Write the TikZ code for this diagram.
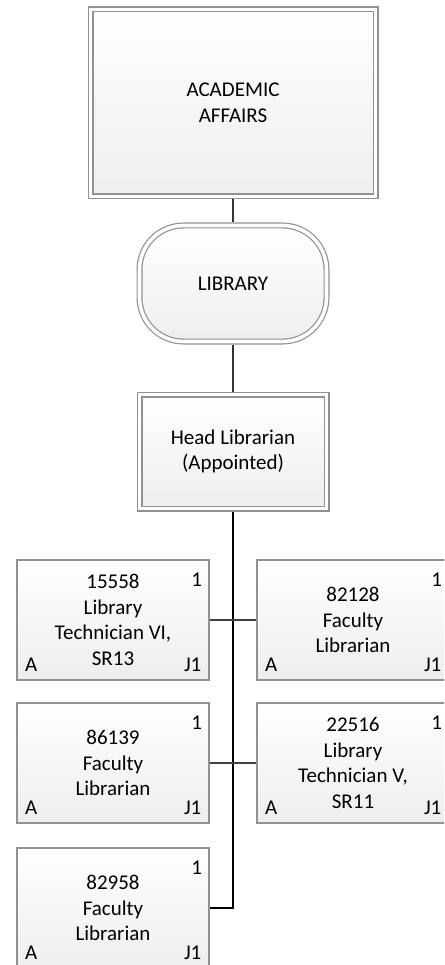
\documentclass[tikz,border=0pt]{standalone}
\usepackage{fontspec}
\setmainfont{Carlito}
\usetikzlibrary{positioning, calc}
\definecolor{boxgray}{RGB}{145,145,145}
\definecolor{fillgray}{RGB}{238,238,238}

\begin{document}
\begin{tikzpicture}[x=1pt, y=-1pt,
	font=\fontsize{21}{25.5}\selectfont,
	shaded/.style={top color=white, bottom color=fillgray, align=center, inner sep=0pt},
	twoline/.style={shaded, draw=boxgray, line width=1.2pt, double=white, double distance=3.6pt, outer sep=3pt},
	topbox/.style={twoline, minimum width=285pt, minimum height=187pt},
	libbox/.style={twoline, rounded corners=44pt, minimum width=187pt, minimum height=116pt},
	headbox/.style={twoline, minimum width=187pt, minimum height=114pt},
	posbox/.style={shaded, draw=boxgray, line width=1.4pt, minimum width=192pt, minimum height=120pt},
	tag/.style={inner sep=0pt},
	link/.style={line width=1.3pt, black!80},
	trunk/.style={line width=1.7pt, black},
	branch/.style={line width=1.3pt, black!75}]

\useasboundingbox (0,0) rectangle (444,965);
\clip (0,0) rectangle (444,965);

\node[topbox] (acad) at (233,103) {ACADEMIC\\AFFAIRS};
\node[libbox] (lib) at (233,283.5) {LIBRARY};
\node[headbox] (head) at (233,451.5) {Head Librarian\\(Appointed)};

\node[posbox] (p15558) at (113,620) {15558\\Library\\Technician VI,\\SR13};
\node[posbox] (p82128) at (353,620) {82128\\Faculty\\Librarian};
\node[posbox] (p86139) at (113,763) {86139\\Faculty\\Librarian};
\node[posbox] (p22516) at (353,763) {22516\\Library\\Technician V,\\SR11};
\node[posbox] (p82958) at (113,908) {82958\\Faculty\\Librarian};

% corner marks of the position boxes
\foreach \p in {p15558, p82128, p86139, p22516, p82958} {
	\node[tag] (\p-n) at ($(\p.north east)+(-13,20)$) {1};
	\node[tag] (\p-a) at ($(\p.south west)+(15,-16)$) {A};
	\node[tag] (\p-j) at ($(\p.south east)+(-17,-16)$) {J1};
}

\draw[link] (acad) -- (lib);
\draw[link] (lib) -- (head);
\draw[trunk] (head.south) |- (p82958.east);
\draw[branch] (p15558) -- (p82128);
\draw[branch] (p86139) -- (p22516);
\end{tikzpicture}
\end{document}
